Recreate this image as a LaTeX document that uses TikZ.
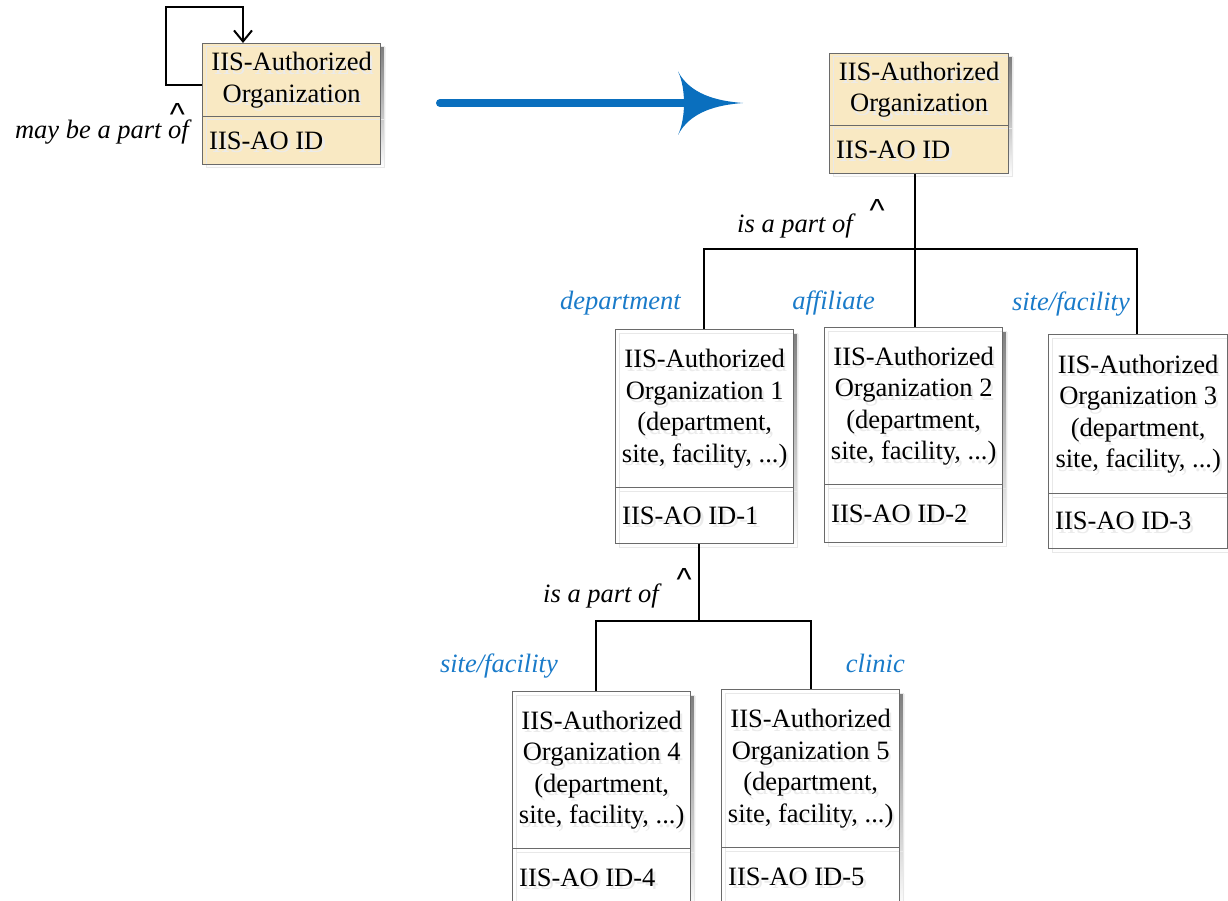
\documentclass[tikz,border=0pt]{standalone}
\usepackage{fontspec}
\setmainfont{Liberation Serif}
\newfontfamily\caretfamily{Liberation Sans}
\usetikzlibrary{arrows.meta,calc}

\definecolor{aofill}{HTML}{F9E9C3}
\definecolor{frame}{HTML}{6A6A6A}
\definecolor{shade}{HTML}{E9E9E9}
\definecolor{ghost}{HTML}{EBEBEB}
\definecolor{ghostline}{HTML}{E8E8E8}
\definecolor{rolecol}{HTML}{1A7BC9}
\definecolor{bigblue}{HTML}{0A6FBE}

\newcommand\aofont{\fontsize{26.5}{31.5}\selectfont}
\newcommand\aoital{\fontsize{26.5}{31.5}\selectfont\itshape}

% A two-compartment class box: name, left x, top y, width,
% upper height, lower height, fill, upper text, lower text
\newcommand\umlclass[9]{%
  \fill[shade] (#2+5,#3+5) rectangle ++(#4,#5+#6);
  \fill[#7] (#2,#3) rectangle ++(#4,#5+#6);
  \draw[ghostframe] (#2+4,#3+4) rectangle ++(#4,#5)
                    (#2+4,#3+#5+4) rectangle ++(#4,#6);
  \node[ghosttext, align=center] at (#2+#4/2+3,#3+#5/2+4) {#8};
  \node[ghosttext, anchor=west, inner xsep=7pt] at (#2+3,#3+#5+#6/2+4) {#9};
  \node[comp, align=center, minimum width=#4pt, minimum height=#5pt,
        anchor=north west] (#1t) at (#2,#3) {#8};
  \node[comp, minimum width=#4pt, minimum height=#6pt,
        anchor=north west] (#1b) at (#2,#3+#5) {};
  \node[idtext, anchor=west] (#1id) at (#1b.west) {#9};
}

\begin{document}
\begin{tikzpicture}[x=1pt,y=-1pt,
  comp/.style={draw=frame, line width=1.3pt, inner sep=2pt, font=\aofont},
  ghosttext/.style={text=ghost, inner sep=2pt, font=\aofont},
  ghostframe/.style={draw=ghostline, line width=1pt},
  idtext/.style={inner xsep=7pt, inner ysep=2pt, font=\aofont},
  link/.style={line width=2pt, black},
  role/.style={font=\aoital, text=rolecol, inner sep=0pt},
  phrase/.style={font=\aoital, inner sep=0pt},
  caret/.style={font=\caretfamily\fontsize{32}{32}\selectfont, inner sep=0pt, anchor=north},
  openhead/.style={-{Straight Barb[length=11pt,width=18pt,line width=2pt]}}
]
\useasboundingbox (0,0) rectangle (1228,901);
\clip (0,0) rectangle (1228,901);

% ---------- left: single organization with self reference ----------
\umlclass{S}{202}{43}{178}{73}{48}{aofill}{IIS-Authorized\\Organization}{IIS-AO ID}
\coordinate (loopA) at (166,7);
\draw[link, openhead] ($(St.west)+(0,4.5)$) -| (loopA) -| ($(St.north west)+(41,0)$);
\node[caret] (cS) at (177.5,103) {\textasciicircum};
\node[phrase, anchor=base east] (pS) at (189,139) {may be a part of};

% ---------- transformation arrow ----------
\coordinate (arrS) at (440,103);
\coordinate (arrT) at (743,103);
\draw[bigblue, line width=8pt, line cap=round] (arrS) -- (684,103);
\fill[bigblue] (arrT) .. controls (716,101) and (690,94) .. (678,71.5)
  .. controls (686,88) and (686,118) .. (678,135)
  .. controls (690,112) and (716,105) .. (arrT) -- cycle;

% ---------- right: hierarchy of organizations ----------
\umlclass{A}{829}{53}{179}{72}{48}{aofill}{IIS-Authorized\\Organization}{IIS-AO ID}

\umlclass{B1}{615}{329}{178}{158}{56}{white}{IIS-Authorized\\Organization 1\\(department,\\site, facility, ...)}{IIS-AO ID-1}
\umlclass{B2}{824}{327}{178}{157}{58}{white}{IIS-Authorized\\Organization 2\\(department,\\site, facility, ...)}{IIS-AO ID-2}
\umlclass{B3}{1048}{334}{179}{159}{55}{white}{IIS-Authorized\\Organization 3\\(department,\\site, facility, ...)}{IIS-AO ID-3}

\umlclass{B4}{512}{691}{178}{157}{58}{white}{IIS-Authorized\\Organization 4\\(department,\\site, facility, ...)}{IIS-AO ID-4}
\umlclass{B5}{721}{689}{178}{158}{58}{white}{IIS-Authorized\\Organization 5\\(department,\\site, facility, ...)}{IIS-AO ID-5}

% first level of the tree
\coordinate (j1) at (915,249);
\draw[link] (Ab.south -| j1) -- (j1 |- B2t.north);
\draw[link] ($(B1t.north)+(-1,0)$) |- (j1) -| ($(B3t.north)+(-1.5,0)$);
\node[caret] (cA) at (877,199) {\textasciicircum};
\node[phrase, anchor=base east] (pA) at (853,233) {is a part of};
\node[role, anchor=base east] (rDep) at (681,309) {department};
\node[role, anchor=base east] (rAff) at (875,309) {affiliate};
\node[role, anchor=base east] (rSite) at (1130,310) {site/facility};

% second level of the tree
\coordinate (j2) at (699,621);
\draw[link] (B1b.south -| j2) -- (j2);
\draw[link] ($(B4t.north)+(-6,0)$) |- (j2) -| (B5t.north);
\node[caret] (cB) at (684,568) {\textasciicircum};
\node[phrase, anchor=base east] (pB) at (659,602) {is a part of};
\node[role, anchor=base east] (rSite2) at (558,672) {site/facility};
\node[role, anchor=base east] (rClin) at (905,672) {clinic};
\end{tikzpicture}
\end{document}
